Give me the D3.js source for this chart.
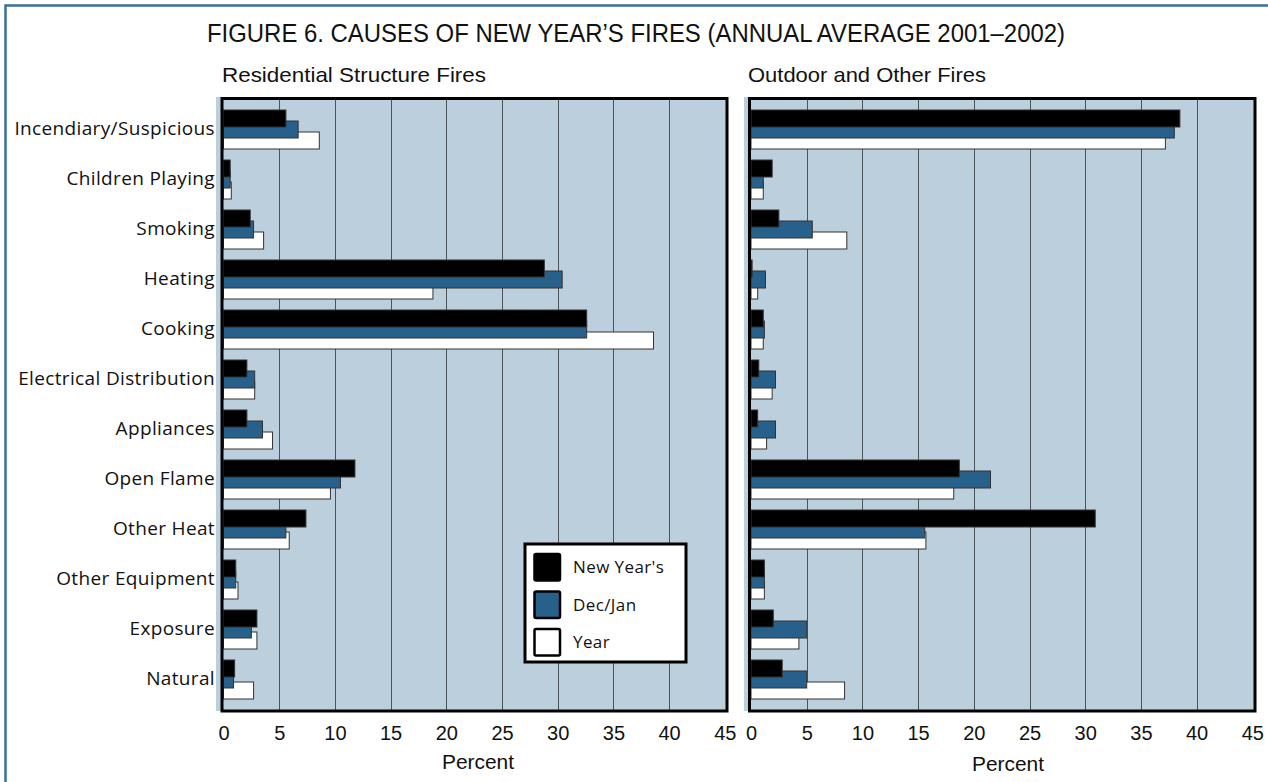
<!DOCTYPE html>
<html>
<head>
<meta charset="utf-8">
<script src="https://cdn.jsdelivr.net/npm/d3@7"></script>
<style>
  html, body { margin: 0; padding: 0; background: #fff; }
  svg { display: block; }
  .narrow { font-family: "Liberation Sans Narrow", "Arial Narrow", "Liberation Sans", Arial, sans-serif; }
  .cat { font-family: "Open Sans", "Noto Sans", sans-serif; }
</style>
</head>
<body>
<svg id="chart" width="1268" height="782"></svg>
<script>
// ---- data ----
const categories = ["Incendiary/Suspicious", "Children Playing", "Smoking", "Heating", "Cooking",
  "Electrical Distribution", "Appliances", "Open Flame", "Other Heat", "Other Equipment", "Exposure", "Natural"];
const series = ["New Year's", "Dec/Jan", "Year"];
const seriesColors = ["#000000", "#27608a", "#ffffff"];

const residentialNewYears = [5.6, 0.6, 2.4, 28.8, 32.6, 2.1, 2.1, 11.8, 7.4, 1.1, 3.0, 1.0];
const residentialDecJan   = [6.7, 0.6, 2.7, 30.4, 32.6, 2.8, 3.5, 10.5, 5.6, 1.1, 2.5, 0.9];
const residentialYear     = [8.6, 0.7, 3.6, 18.8, 38.6, 2.8, 4.4, 9.6, 5.9, 1.3, 3.0, 2.7];

const outdoorNewYears = [38.5, 1.9, 2.5, 0.1, 1.1, 0.7, 0.6, 18.7, 30.9, 1.2, 2.0, 2.8];
const outdoorDecJan   = [38.0, 1.1, 5.5, 1.3, 1.2, 2.2, 2.2, 21.5, 15.6, 1.2, 5.0, 5.0];
const outdoorYear     = [37.2, 1.1, 8.6, 0.6, 1.1, 1.9, 1.4, 18.2, 15.7, 1.2, 4.3, 8.4];

const xTicks = [0, 5, 10, 15, 20, 25, 30, 35, 40, 45];

const titleText = "FIGURE 6. CAUSES OF NEW YEAR\u2019S FIRES (ANNUAL AVERAGE 2001\u20132002)";
const panelTitles = ["Residential Structure Fires", "Outdoor and Other Fires"];
const axisTitle = "Percent";

// ---- drawing ----
const svg = d3.select("#chart");

// outer frame
svg.append("rect").attr("x", 5.5).attr("y", 5.5).attr("width", 1300).attr("height", 800)
  .attr("fill", "none").attr("stroke", "#3a6f98").attr("stroke-width", 2.5);

svg.append("text").attr("class", "narrow")
  .attr("x", 207).attr("y", 41.5)
  .attr("font-size", 25).attr("fill", "#111")
  .attr("textLength", 858).attr("lengthAdjust", "spacingAndGlyphs")
  .text(titleText);

const y = d3.scaleBand().domain(categories).range([104.5, 704.5]);
const ySub = d3.scalePoint().domain(series).range([0, 22]);
const barH = 17;

const panels = [
  { x0: 223.5, x1: 724.8, bgLeft: 216, frameLeft: 222, frameRight: 727, title: panelTitles[0], titleX: 222, titleLen: 264,
    data: [residentialNewYears, residentialDecJan, residentialYear], axisX: 478, axisY: 769 },
  { x0: 751, x1: 1252.3, bgLeft: 744, frameLeft: 749.5, frameRight: 1255, title: panelTitles[1], titleX: 748, titleLen: 238,
    data: [outdoorNewYears, outdoorDecJan, outdoorYear], axisX: 1008, axisY: 771 }
];

const plotTop = 98.5, plotBottom = 711;

panels.forEach(p => {
  const x = d3.scaleLinear().domain([0, 45]).range([p.x0, p.x1]);
  const g = svg.append("g");

  // background
  g.append("rect").attr("x", p.bgLeft).attr("y", plotTop - 1.5)
    .attr("width", p.frameRight - p.bgLeft).attr("height", plotBottom - plotTop + 1.5)
    .attr("fill", "#bccfdc");

  // gridlines
  g.selectAll("line.grid").data(xTicks.slice(1, -1)).enter().append("line")
    .attr("x1", d => Math.round(x(d)) + 0.5).attr("x2", d => Math.round(x(d)) + 0.5)
    .attr("y1", plotTop).attr("y2", plotBottom)
    .attr("stroke", "#4a525a").attr("stroke-width", 1);

  // bars: draw Year first, then Dec/Jan, then New Year's on top
  [2, 1, 0].forEach(si => {
    g.selectAll(null).data(p.data[si].map((v, i) => ({ v, c: categories[i] }))).enter().append("rect")
      .attr("x", x(0))
      .attr("y", d => y(d.c) + 5.5 + ySub(series[si]))
      .attr("width", d => x(d.v) - x(0))
      .attr("height", barH)
      .attr("fill", seriesColors[si])
      .attr("stroke", "#333").attr("stroke-width", 1);
  });

  // frame
  g.append("rect").attr("x", p.frameLeft).attr("y", plotTop)
    .attr("width", p.frameRight - p.frameLeft).attr("height", plotBottom - plotTop)
    .attr("fill", "none").attr("stroke", "#000").attr("stroke-width", 3);

  // x axis
  const axis = d3.axisBottom(x).tickValues(xTicks).tickSize(0).tickPadding(0).tickFormat(d3.format("d"));
  const ag = g.append("g").attr("transform", `translate(0, ${plotBottom + 29})`).call(axis);
  ag.select(".domain").remove();
  ag.selectAll("text").attr("class", "narrow").attr("font-size", 20).attr("fill", "#111").attr("dy", "0");

  // panel title
  g.append("text").attr("class", "narrow")
    .attr("x", p.titleX).attr("y", 82)
    .attr("font-size", 21).attr("fill", "#111")
    .attr("textLength", p.titleLen).attr("lengthAdjust", "spacingAndGlyphs")
    .text(p.title);

  // axis title
  g.append("text").attr("class", "narrow")
    .attr("x", p.axisX).attr("y", p.axisY).attr("text-anchor", "middle")
    .attr("font-size", 21).attr("fill", "#111")
    .attr("textLength", 72).attr("lengthAdjust", "spacingAndGlyphs")
    .text(axisTitle);
});

// category labels
svg.append("g").selectAll("text").data(categories).enter().append("text")
  .attr("class", "cat")
  .attr("x", 215).attr("y", d => y(d) + y.bandwidth() / 2 + 5)
  .attr("text-anchor", "end").attr("font-size", 19).attr("letter-spacing", 0.35).attr("fill", "#111")
  .text(d => d);

// legend
const lg = svg.append("g");
lg.append("rect").attr("x", 525).attr("y", 544).attr("width", 161).attr("height", 118)
  .attr("fill", "#fff").attr("stroke", "#000").attr("stroke-width", 3);
const legY = d3.scalePoint().domain(series).range([567, 642]);
series.forEach((s, i) => {
  lg.append("rect").attr("x", 534.5).attr("y", legY(s) - 13).attr("width", 25.5).attr("height", 26.5)
    .attr("rx", 1.5)
    .attr("fill", seriesColors[i]).attr("stroke", "#000").attr("stroke-width", 2.5);
  lg.append("text").attr("class", "cat").attr("x", 573).attr("y", legY(s) + 6)
    .attr("font-size", 17).attr("letter-spacing", 0.4).attr("fill", "#111").text(s);
});
</script>
</body>
</html>
